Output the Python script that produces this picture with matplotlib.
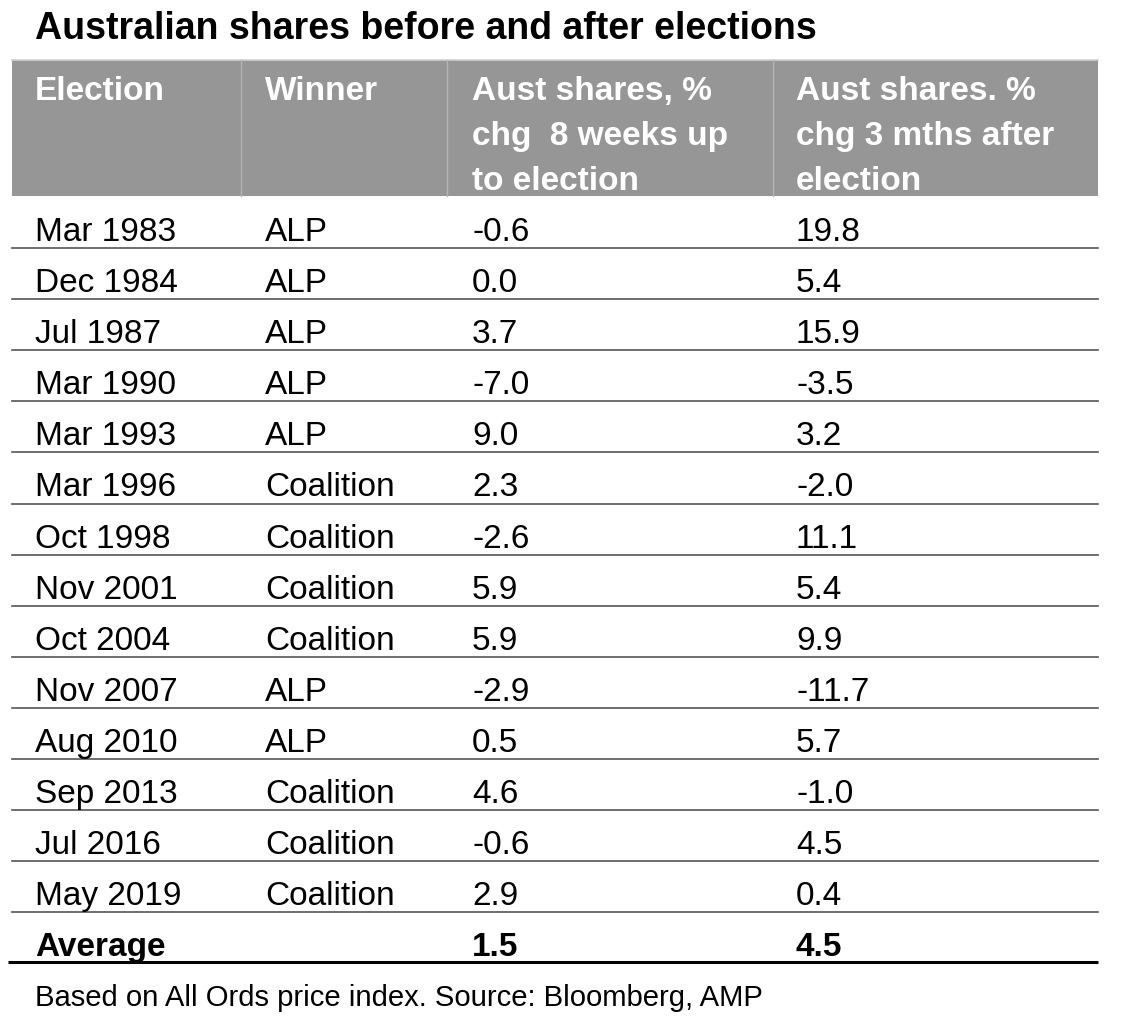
import matplotlib.pyplot as plt
from matplotlib.patches import Rectangle

# ---------------- DATA ----------------
title = "Australian shares before and after elections"
headers = [
    "Election",
    "Winner",
    "Aust shares, %\nchg  8 weeks up\nto election",
    "Aust shares. %\nchg 3 mths after\nelection",
]
elections = ["Mar 1983", "Dec 1984", "Jul 1987", "Mar 1990", "Mar 1993",
             "Mar 1996", "Oct 1998", "Nov 2001", "Oct 2004", "Nov 2007",
             "Aug 2010", "Sep 2013", "Jul 2016", "May 2019"]
winners = ["ALP", "ALP", "ALP", "ALP", "ALP",
           "Coalition", "Coalition", "Coalition", "Coalition", "ALP",
           "ALP", "Coalition", "Coalition", "Coalition"]
chg_before = [-0.6, 0.0, 3.7, -7.0, 9.0, 2.3, -2.6, 5.9, 5.9, -2.9, 0.5, 4.6, -0.6, 2.9]
chg_after = [19.8, 5.4, 15.9, -3.5, 3.2, -2.0, 11.1, 5.4, 9.9, -11.7, 5.7, -1.0, 4.5, 0.4]
avg_label = "Average"
avg_before = 1.5
avg_after = 4.5
footnote = "Based on All Ords price index. Source: Bloomberg, AMP"

# ---------------- LAYOUT (pixels) ----------------
W, H = 1121, 1020
col_x = [35, 265, 472, 796]
col_div = [241, 447, 773]
left, right = 12, 1098
head_top, head_bot = 61, 197
row_h = 51.1
first_base = 241
body_size = 24

plt.rcParams['font.family'] = ['Liberation Sans', 'DejaVu Sans']

fig = plt.figure(figsize=(W / 100, H / 100), dpi=100)
ax = fig.add_axes([0, 0, 1, 1])
ax.set_xlim(0, W)
ax.set_ylim(H, 0)
ax.axis('off')

# title
ax.text(35, 39, title, fontsize=27, fontweight='bold', va='baseline', ha='left')

# header band
ax.add_patch(Rectangle((left, head_top), right - left, head_bot - head_top,
                       facecolor='#969696', edgecolor='none'))
ax.plot([left, right], [head_top, head_top], color='#d0d0d0', lw=1.2)
for x in col_div:
    ax.plot([x, x], [head_top, head_bot], color='#b4b4b4', lw=1.0)
for x, h in zip(col_x, headers):
    for k, line in enumerate(h.split("\n")):
        ax.text(x, 100 + 45 * k, line, color='white', fontsize=body_size,
                fontweight='bold', va='baseline', ha='left')

# body rows
for i, (e, w, b, a) in enumerate(zip(elections, winners, chg_before, chg_after)):
    y = first_base + row_h * i
    for x, s in zip(col_x, [e, w, f"{b:.1f}", f"{a:.1f}"]):
        ax.text(x, y, s, fontsize=body_size, va='baseline', ha='left')
    ly = first_base + 8 + row_h * i
    ax.plot([left, right], [ly, ly], color='#555555', lw=1.2)

# average row
y = first_base + row_h * len(elections)
for x, s in zip(col_x, [avg_label, "", f"{avg_before:.1f}", f"{avg_after:.1f}"]):
    ax.text(x, y, s, fontsize=body_size, fontweight='bold', va='baseline', ha='left')
ax.plot([8, right], [963, 963], color='black', lw=2.2, solid_capstyle='butt')

# footnote
ax.text(35, 1006, footnote, fontsize=21.1, va='baseline', ha='left')

fig.savefig("out.png", dpi=100)
